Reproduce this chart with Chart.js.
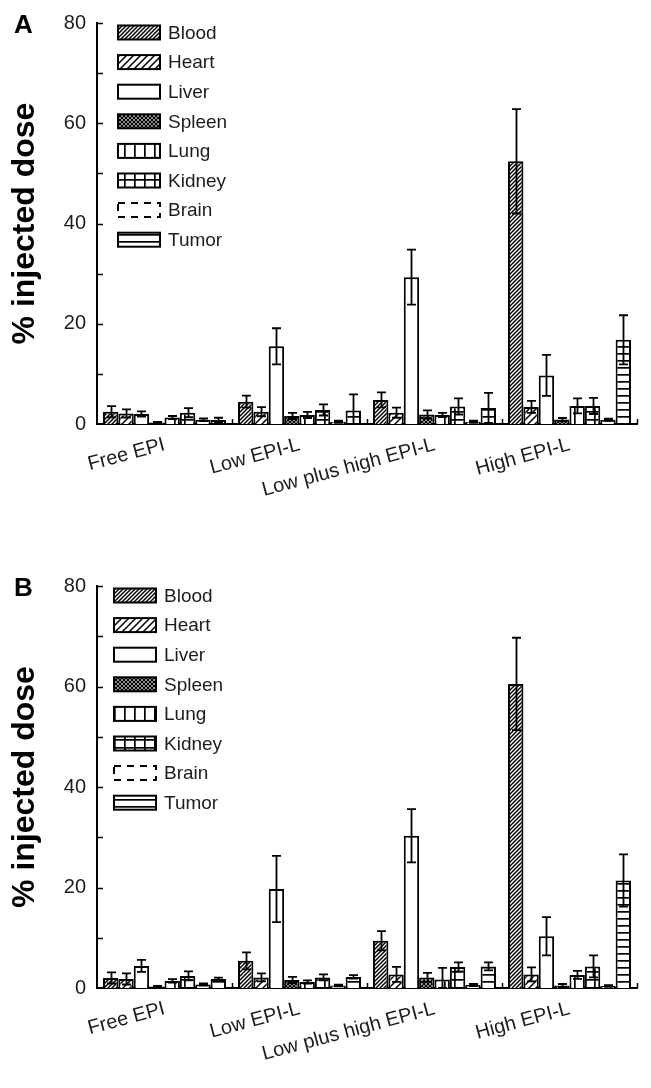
<!DOCTYPE html>
<html>
<head>
<meta charset="utf-8">
<script src="https://cdn.jsdelivr.net/npm/chart.js@4.4.1/dist/chart.umd.min.js"></script>
<style>
html,body{margin:0;padding:0;background:#fff;}
.panel{position:absolute;left:0;width:651px;height:544px;}
#wa{top:0;}
#wb{top:544px;}
</style>
</head>
<body>
<div class="panel" id="wa"><canvas id="ca" width="651" height="544"></canvas></div>
<div class="panel" id="wb"><canvas id="cb" width="651" height="544"></canvas></div>
<script>
// ---------- data ----------
const categories = ['Free EPI', 'Low EPI-L', 'Low plus high EPI-L', 'High EPI-L'];
const organs = ['Blood', 'Heart', 'Liver', 'Spleen', 'Lung', 'Kidney', 'Brain', 'Tumor'];
const yTicks = [0, 20, 40, 60, 80];
const panelLetters = ['A', 'B'];
const yTitle = '% injected dose';

// Panel A: means
const bloodA  = [2.45, 4.45, 4.8, 52.4];
const heartA  = [2.1, 2.45, 2.25, 3.4];
const liverA  = [2.0, 15.5, 29.3, 9.7];
const spleenA = [0.3, 1.6, 1.9, 0.9];
const lungA   = [1.3, 1.8, 1.8, 3.6];
const kidneyA = [2.25, 2.8, 3.5, 3.6];
const brainA  = [0.85, 0.45, 0.45, 0.85];
const tumorA  = [0.8, 2.7, 3.2, 16.8];
// Panel A: SD
const bloodAErr  = [1.1, 1.2, 1.5, 10.4];
const heartAErr  = [0.8, 0.9, 1.0, 1.2];
const liverAErr  = [0.5, 3.6, 5.5, 4.1];
const spleenAErr = [0.1, 0.6, 0.8, 0.3];
const lungAErr   = [0.3, 0.6, 0.4, 1.5];
const kidneyAErr = [0.9, 1.1, 1.6, 1.6];
const brainAErr  = [0.25, 0.2, 0.2, 0.2];
const tumorAErr  = [0.45, 3.2, 3.0, 4.9];

// Panel B: means
const bloodB  = [2.0, 5.4, 9.4, 60.5];
const heartB  = [1.8, 2.1, 2.7, 2.7];
const liverB  = [4.4, 19.7, 30.3, 10.3];
const spleenB = [0.3, 1.6, 2.1, 0.5];
const lungB   = [1.4, 1.2, 1.7, 2.6];
const kidneyB = [2.4, 2.1, 4.2, 4.3];
const brainB  = [0.7, 0.5, 0.6, 0.4];
const tumorB  = [1.8, 2.2, 4.3, 21.4];
// Panel B: SD
const bloodBErr  = [1.1, 1.7, 1.9, 9.2];
const heartBErr  = [1.1, 0.8, 1.5, 1.4];
const liverBErr  = [1.2, 6.6, 5.3, 3.8];
const spleenBErr = [0.1, 0.6, 0.9, 0.3];
const lungBErr   = [0.35, 0.3, 2.3, 0.8];
const kidneyBErr = [0.9, 0.6, 0.9, 2.2];
const brainBErr  = [0.2, 0.15, 0.2, 0.15];
const tumorBErr  = [0.25, 0.35, 0.8, 5.2];

const valuesA = [bloodA, heartA, liverA, spleenA, lungA, kidneyA, brainA, tumorA];
const errorsA = [bloodAErr, heartAErr, liverAErr, spleenAErr, lungAErr, kidneyAErr, brainAErr, tumorAErr];
const valuesB = [bloodB, heartB, liverB, spleenB, lungB, kidneyB, brainB, tumorB];
const errorsB = [bloodBErr, heartBErr, liverBErr, spleenBErr, lungBErr, kidneyBErr, brainBErr, tumorBErr];

// ---------- styles ----------
const FONT = "'Liberation Sans', Arial, Helvetica, sans-serif";
const INK = '#1c1c1c';
Chart.defaults.font.family = FONT;
Chart.defaults.color = INK;

function makePattern(kind) {
  const c = document.createElement('canvas');
  let w = 8, h = 8;
  if (kind === 'blood' || kind === 'spleen') { w = h = 4; }
  else if (kind === 'heart') { w = h = 7; }
  else if (kind === 'lung') { w = 10; h = 10; }
  else if (kind === 'kidney') { w = 10; h = 8; }
  else if (kind === 'tumor') { w = 8; h = 7; }
  c.width = w; c.height = h;
  const x = c.getContext('2d');
  x.fillStyle = '#fff'; x.fillRect(0, 0, w, h);
  x.strokeStyle = '#000'; x.fillStyle = '#000';
  const diag = (s, lw) => { x.lineWidth = lw; x.beginPath();
    x.moveTo(0, s); x.lineTo(s, 0); x.moveTo(-1, 1); x.lineTo(1, -1); x.moveTo(s - 1, s + 1); x.lineTo(s + 1, s - 1); x.stroke(); };
  const anti = (s, lw) => { x.lineWidth = lw; x.beginPath();
    x.moveTo(0, 0); x.lineTo(s, s); x.moveTo(-1, s - 1); x.lineTo(1, s + 1); x.moveTo(s - 1, -1); x.lineTo(s + 1, 1); x.stroke(); };
  if (kind === 'blood') diag(4, 1.5);
  if (kind === 'heart') diag(7, 1.5);
  if (kind === 'spleen') { diag(4, 1.3); anti(4, 1.3); }
  if (kind === 'lung') x.fillRect(4, 0, 1.7, h);
  if (kind === 'kidney') { x.fillRect(4, 0, 1.7, h); x.fillRect(0, 3, w, 1.7); }
  if (kind === 'tumor') x.fillRect(0, 3, w, 1.7);
  return x.createPattern(c, 'repeat');
}

const fills = {
  Blood: makePattern('blood'), Heart: makePattern('heart'), Liver: '#ffffff',
  Spleen: makePattern('spleen'), Lung: makePattern('lung'), Kidney: makePattern('kidney'),
  Brain: '#ffffff', Tumor: makePattern('tumor')
};

// ---------- decorations plugin: error bars, inward ticks, legend, panel letter ----------
const decor = {
  id: 'decor',
  afterDatasetsDraw(chart) {
    const ctx = chart.ctx, ys = chart.scales.y;
    ctx.save();
    ctx.strokeStyle = '#000'; ctx.lineWidth = 1.8;
    chart.data.datasets.forEach((ds, di) => {
      const meta = chart.getDatasetMeta(di);
      meta.data.forEach((bar, i) => {
        const v = ds.data[i], e = ds.errorBars[i];
        const x = Math.round(bar.x) + 0.5;
        const yt = ys.getPixelForValue(v + e);
        const yb = ys.getPixelForValue(Math.max(0, v - e));
        const cap = 4.5;
        ctx.beginPath();
        ctx.moveTo(x, yt); ctx.lineTo(x, yb);
        ctx.moveTo(x - cap, yt); ctx.lineTo(x + cap, yt);
        ctx.moveTo(x - cap, yb); ctx.lineTo(x + cap, yb);
        ctx.stroke();
      });
    });
    ctx.restore();
  },
  afterDraw(chart, args, o) {
    const ctx = chart.ctx, ys = chart.scales.y, xs = chart.scales.x, ca = chart.chartArea;
    ctx.save();
    // inward y ticks (major + minor)
    ctx.strokeStyle = '#000'; ctx.lineWidth = 1.5;
    const tv = [];
    yTicks.forEach((v, i) => { tv.push(v); if (i < yTicks.length - 1) tv.push((v + yTicks[i + 1]) / 2); });
    tv.forEach(v => {
      if (v === 0) return;
      const y = Math.round(ys.getPixelForValue(v)) + 0.5;
      ctx.beginPath(); ctx.moveTo(ca.left, y); ctx.lineTo(ca.left + 6, y); ctx.stroke();
    });
    // inward x ticks at category boundaries
    const half = (xs.getPixelForValue(1) - xs.getPixelForValue(0)) / 2;
    for (let i = 0; i < categories.length; i++) {
      const x = Math.round(xs.getPixelForValue(i) + half) + 0.5;
      ctx.beginPath(); ctx.moveTo(x, ca.bottom); ctx.lineTo(x, ca.bottom - 5); ctx.stroke();
    }
    // legend
    ctx.font = '19px ' + FONT; ctx.textBaseline = 'middle'; ctx.textAlign = 'left';
    chart.data.datasets.forEach((ds, i) => {
      const yc = ca.top + o.legendTop + i * o.legendStep;
      const bx = o.legendX, bw = 42, bh = 14;
      ctx.fillStyle = ds.backgroundColor;
      ctx.fillRect(bx, yc - bh / 2, bw, bh);
      ctx.strokeStyle = '#000'; ctx.lineWidth = 2;
      ctx.setLineDash(ds.legendDash || []);
      ctx.strokeRect(bx, yc - bh / 2, bw, bh);
      ctx.setLineDash([]);
      ctx.fillStyle = INK;
      ctx.fillText(ds.label, bx + 50, yc + 1);
    });
    // panel letter
    ctx.font = 'bold 26px ' + FONT; ctx.fillStyle = '#000';
    ctx.fillText(o.letter, 14, ca.top + 3);
    ctx.restore();
  }
};

function buildChart(canvasId, values, errors, letter, topPad, legendX) {
  const datasets = organs.map((name, i) => ({
    label: name,
    data: values[i],
    errorBars: errors[i],
    backgroundColor: fills[name],
    borderColor: '#000',
    borderWidth: 2,
    categoryPercentage: 0.911,
    barPercentage: 1.0,
    legendDash: name === 'Brain' ? [7, 6] : null
  }));
  return new Chart(document.getElementById(canvasId), {
    type: 'bar',
    data: { labels: categories, datasets },
    plugins: [decor],
    options: {
      responsive: false,
      animation: false,
      devicePixelRatio: 1,
      layout: { padding: { left: 0, right: 14, top: topPad, bottom: 0 } },
      plugins: {
        legend: { display: false },
        tooltip: { enabled: false },
        decor: { letter, legendX, legendTop: 9.5, legendStep: 29.6 }
      },
      scales: {
        x: {
          offset: true,
          grid: { display: false, drawTicks: false },
          border: { display: true, color: '#000', width: 2 },
          ticks: { minRotation: 15, maxRotation: 15, autoSkip: false, padding: 9, color: INK, font: { size: 20 } },
          afterFit(s) { s.height = 544 - topPad - 402; }
        },
        y: {
          min: 0, max: 80,
          afterBuildTicks(s) { s.ticks = yTicks.map(v => ({ value: v })); },
          grid: { display: false, drawTicks: false },
          border: { display: true, color: '#000', width: 2 },
          ticks: { padding: 11, color: INK, font: { size: 20 } },
          title: { display: true, text: yTitle, color: '#000', font: { size: 32, weight: 'bold' }, padding: { top: 6, bottom: 0 } },
          afterFit(s) { s.width = 97; }
        }
      }
    }
  });
}

buildChart('ca', valuesA, errorsA, panelLetters[0], 22, 118);
buildChart('cb', valuesB, errorsB, panelLetters[1], 42, 114);
</script>
</body>
</html>
